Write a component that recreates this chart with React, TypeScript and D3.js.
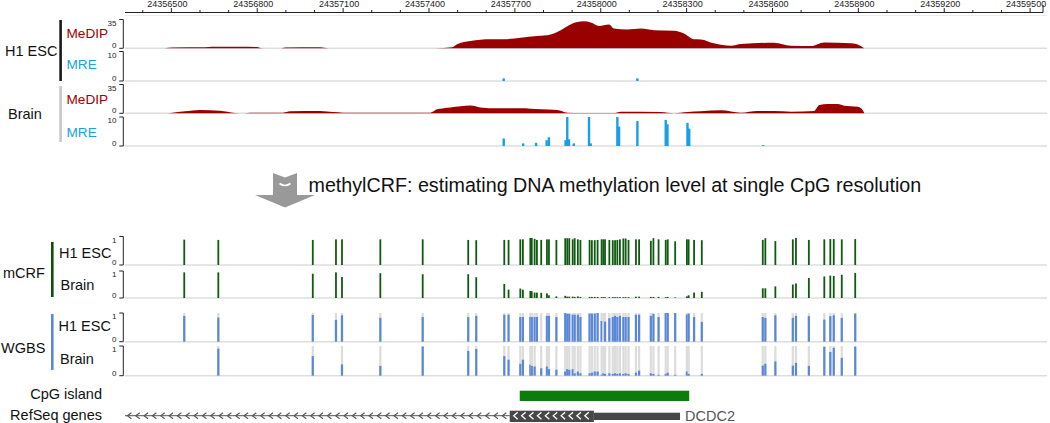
import React from "react";
import * as d3 from "d3";

const FONT = "'Liberation Sans', Arial, Helvetica, sans-serif";

// genomic window shown (bp)
const viewStart = 24356338;
const viewEnd = 24359545;
const majorTicks = d3.range(24356500, 24359501, 300);
const minorTicks = d3.range(24356400, 24359545, 100);

// MeDIP read coverage, H1 ESC
const medipH1Pos = [24356477, 24356502, 24356617, 24356642, 24356740, 24356799, 24356817, 24356880, 24356897, 24357020,
  24357048, 24357419, 24357481, 24357498, 24357545, 24357615, 24357660, 24357720, 24357778, 24357825,
  24357860, 24357889, 24357918, 24357941, 24357965, 24357994, 24358011, 24358029, 24358046, 24358093,
  24358140, 24358186, 24358256, 24358291, 24358326, 24358350, 24358395, 24358455, 24358490, 24358605,
  24358665, 24358735, 24358780, 24358875, 24358910, 24358920];
const medipH1Val = [0, 1, 1.2, 2, 2, 1.5, 0, 0, 1, 1.2,
  0, 0, 1.2, 4.8, 8.8, 11, 11, 12.8, 14.8, 16.8,
  22, 28, 32, 32.8, 31.3, 27.2, 28, 28.8, 24, 22.8,
  24, 22, 21.2, 18, 11, 10.8, 6, 3.2, 5.2, 6.8,
  3.2, 2.8, 7.2, 6, 2.4, 0];

// MeDIP read coverage, Brain
const medipBrainPos = [24356477, 24356498, 24356547, 24356600, 24356670, 24356722, 24356757, 24356775, 24356890, 24356915,
  24357020, 24357065, 24357100, 24357254, 24357310, 24357405, 24357428, 24357475, 24357545, 24357580,
  24357638, 24357720, 24357790, 24357848, 24357883, 24357930, 24358045, 24358070, 24358210, 24358256,
  24358303, 24358350, 24358420, 24358490, 24358548, 24358605, 24358665, 24358745, 24358764, 24358793,
  24358828, 24358851, 24358898, 24358910, 24358921];
const medipBrainVal = [0, 0.5, 2.4, 4, 3.2, 0.5, 0, 0.8, 0.8, 2.4,
  2.8, 1.5, 0.8, 0.6, 0.8, 0.8, 4.8, 7.2, 9.6, 7.2,
  6, 6, 4.8, 4, 0.8, 0.3, 0.3, 2, 1.6, 0,
  1.5, 2.5, 3.6, 0.8, 2.8, 2.8, 2, 2.8, 10, 11.2,
  11.2, 9.2, 8, 6, 0];

// MRE counts
const mreH1Pos = [24357661, 24358128];
const mreH1Val = [0.9, 0.9];
const mreBrainPos = [24357661, 24357729, 24357774, 24357811, 24357819, 24357877, 24357883, 24357889, 24357906, 24357959,
  24357965, 24358058, 24358064, 24358128, 24358227, 24358233, 24358303, 24358309, 24358567];
const mreBrainVal = [2.6, 0.9, 1.1, 2, 3, 2, 10, 2.3, 0.9, 10,
  0.9, 10, 6.7, 8.6, 9, 7.5, 8, 6, 0.3];

// CpG sites
const cpgPos = [24356545, 24356664, 24356994, 24357075, 24357096, 24357230, 24357378, 24357537, 24357565, 24357663,
  24357678, 24357719, 24357728, 24357754, 24357759, 24357769, 24357777, 24357792, 24357812, 24357819,
  24357845, 24357876, 24357883, 24357890, 24357902, 24357909, 24357920, 24357929, 24357961, 24357969,
  24357979, 24357989, 24358003, 24358009, 24358015, 24358030, 24358042, 24358050, 24358058, 24358067,
  24358079, 24358087, 24358097, 24358123, 24358134, 24358175, 24358184, 24358202, 24358227, 24358234,
  24358260, 24358301, 24358307, 24358326, 24358353, 24358566, 24358575, 24358610, 24358671, 24358682,
  24358727, 24358781, 24358802, 24358814, 24358842, 24358889];

// methylCRF estimates
const mcrfH1 = [0.89, 0.88, 0.88, 0.9, 0.9, 0.9, 0.9, 0.88, 0.87, 0.88,
  0.88, 0.9, 0.9, 0.95, 0.95, 0.92, 0.88, 0.88, 0.9, 0.9,
  0.88, 0.94, 0.94, 0.94, 0.9, 0.94, 0.9, 0.88, 0.88, 0.87,
  0.87, 0.88, 0.9, 0.9, 0.9, 0.88, 0.87, 0.87, 0.88, 0.9,
  0.93, 0.93, 0.88, 0.9, 0.9, 0.85, 0.94, 0.9, 0.88, 0.9,
  0.83, 0.9, 0.9, 0.88, 0.87, 0.88, 0.94, 0.84, 0.9, 0.95,
  0.88, 0.9, 0.91, 0.91, 0.9, 0.91];
const mcrfBrain = [0.95, 0.95, 0.9, 0.95, 0.78, 0.92, 0.88, 0.88, 0.77, 0.52,
  0.31, 0.35, 0.31, 0.26, 0.25, 0.2, 0.2, 0.19, 0.17, 0.1,
  0.06, 0.08, 0.05, 0.05, 0.05, 0.04, 0.06, 0.04, 0.04, 0.04,
  0.04, 0.04, 0.03, 0.03, 0.03, 0.03, 0.03, 0.03, 0.03, 0.03,
  0.03, 0.03, 0.03, 0.05, 0.05, 0.04, 0.04, 0.04, 0.03, 0.04,
  0.02, 0.06, 0.1, 0.2, 0.23, 0.36, 0.36, 0.43, 0.5, 0.54,
  0.74, 0.8, 0.83, 0.82, 0.86, 0.93];

// WGBS methylation (null = not covered)
const wgbsH1 = [0.9, 0.84, 0.93, 0.76, 0.92, 0.83, 0.86, 0.86, 0.9, 0.94,
  0.94, 0.86, 0.86, 0.86, 0.86, 0.86, 0.86, 0, 0.9, 0.9,
  0.86, 1, 0.97, 0.97, 0.94, 0.94, 0.94, 0.86, 0.98, 0.98,
  0.98, 1, 0.72, 0, 0.7, 0.82, 0.86, 0.9, 0.86, 0.9,
  0.86, 0.86, 0.86, 0.94, 0.94, 0.9, 0.97, 0.86, 1, 1,
  1, 0.94, 0.98, 0.86, 0.69, 0.86, 0.83, 0.92, 0.83, 0.9,
  0.89, 0.77, 0.89, 0.92, 0.83, 0.98];
const wgbsBrain = [null, 0.91, 0.66, null, 0.38, 0.33, 0.98, 0.83, 0.9, 0.66,
  0.54, 0.4, 0.54, 0.37, 0.33, 0.31, null, 0.25, 0.31, 0.22,
  0.2, 0.14, 0.22, 0.2, 0.22, 0.08, 0.14, 0.08, 0.08, 0.1,
  0.14, 0.14, 0.03, 0.08, 0.06, 0.08, 0.06, 0.08, 0.06, 0.08,
  0.06, 0.08, 0.06, 0.1, 0.17, 0.08, 0.06, 0.03, 0.06, 0.1,
  0.03, 0.14, 0.06, null, 0.06, 0.34, 0.4, 0.48, 0.34, 0.43,
  0.33, 0.97, 0.8, 0.94, 0.6, 0.98];

// annotation
const cpgIsland = [24357717, 24358309];
const geneName = "DCDC2";
const geneIntron = [viewStart, 24357682];
const geneCds = [24357682, 24357976];
const geneUtr = [24357976, 24358277];

const C = {
  medip: "#990000",
  mre: "#1a9fe5",
  mcrf: "#115a11",
  wgbs: "#5b87da",
  wgbsBg: "#dcdcdc",
  base: "#dedede",
  island: "#0c7c0c",
  gene: "#474747",
};

function Bracket({ top, bottom, hi, lo }: { top: number; bottom: number; hi: string; lo: string }) {
  const bx = 123.3;
  return (
    <g stroke="#222" fill="none" strokeWidth={1}>
      <path d={`M${bx - 4},${top}H${bx}V${bottom}H${bx - 4}`} />
      <text x={116.5} y={top + 6} textAnchor="end" fontSize={8} fill="#222" stroke="none">{hi}</text>
      <text x={116.5} y={bottom} textAnchor="end" fontSize={8} fill="#222" stroke="none">{lo}</text>
    </g>
  );
}

export default function App() {
  const x = d3.scaleLinear().domain([viewStart, viewEnd]).range([125, 1043]);
  const xr0 = 125, xr1 = 1047;

  const yMedipH1 = d3.scaleLinear().domain([0, 35]).range([48.3, 19.5]);
  const yMreH1 = d3.scaleLinear().domain([0, 10]).range([81, 51.5]).clamp(true);
  const yMedipBrain = d3.scaleLinear().domain([0, 35]).range([113.3, 84.5]);
  const yMreBrain = d3.scaleLinear().domain([0, 10]).range([146, 117]).clamp(true);
  const yMcrfH1 = d3.scaleLinear().domain([0, 1]).range([265, 236.5]);
  const yMcrfBrain = d3.scaleLinear().domain([0, 1]).range([298, 271]);
  const yWgbsH1 = d3.scaleLinear().domain([0, 1]).range([341.7, 313]);
  const yWgbsBrain = d3.scaleLinear().domain([0, 1]).range([375.7, 346]);

  const medipArea = (pos: number[], y: d3.ScaleLinear<number, number>) =>
    d3.area<number>()
      .x((_, i) => x(pos[i]))
      .y0(y(0))
      .y1((d) => y(d))
      .curve(d3.curveMonotoneX);

  const baselines = [48.3, 81, 113.3, 146, 265, 298, 341.7, 375.7];

  const mreBars = (pos: number[], val: number[], y: d3.ScaleLinear<number, number>) =>
    pos.map((p, i) => (
      <rect key={i} x={x(p) - 1.2} width={2.4} y={y(val[i])} height={y(0) - y(val[i])} fill={C.mre} />
    ));

  const mcrfBars = (val: number[], y: d3.ScaleLinear<number, number>) =>
    cpgPos.map((p, i) => (
      <rect key={i} x={x(p) - 0.9} width={1.8} y={y(val[i])} height={y(0) - y(val[i])} fill={C.mcrf} />
    ));

  const wgbsBars = (val: (number | null)[], y: d3.ScaleLinear<number, number>) =>
    cpgPos.map((p, i) => {
      const v = val[i];
      if (v === null) return null;
      return (
        <g key={i}>
          <rect x={x(p) - 1.1} width={2.2} y={y(1)} height={y(0) - y(1)} fill={C.wgbsBg} />
          <rect x={x(p) - 1.1} width={2.2} y={y(v)} height={y(0) - y(v)} fill={C.wgbs} />
        </g>
      );
    });

  // chevrons along the intron (strand -)
  const intronY = 415.7;
  const chevrons = d3.range(x(geneIntron[0]) + 4, x(geneIntron[1]) - 2, 8.33);
  const cdsChev = d3.range(x(geneCds[0]) + 6, x(geneCds[1]) - 6, 7.9);

  return (
    <svg width={1050} height={423} style={{ position: "absolute", left: 0, top: 0 }} fontFamily={FONT}>
      <rect width={1050} height={423} fill="#fff" />

      {/* top coordinate axis */}
      <g stroke="#222" strokeWidth={1}>
        <line x1={xr0} x2={1043} y1={12.5} y2={12.5} />
        <line x1={1043} x2={1043} y1={5} y2={12.5} />
        {minorTicks.filter((t) => !majorTicks.includes(t)).map((t) => (
          <line key={t} x1={x(t)} x2={x(t)} y1={10} y2={12.5} />
        ))}
        {majorTicks.map((t) => (
          <line key={t} x1={x(t)} x2={x(t)} y1={8} y2={12.5} />
        ))}
      </g>
      {majorTicks.map((t) => (
        <text key={t} x={x(t) - 4} y={7} textAnchor="middle" fontSize={9} fill="#222">{t}</text>
      ))}
      <line x1={xr0} x2={xr1} y1={15.5} y2={15.5} stroke="#ebebeb" />

      {/* track baselines */}
      {baselines.map((b) => (
        <line key={b} x1={xr0} x2={xr1} y1={b} y2={b} stroke={C.base} strokeWidth={1.5} />
      ))}

      {/* MeDIP / MRE */}
      <path d={medipArea(medipH1Pos, yMedipH1)(medipH1Val) || ""} fill={C.medip} />
      <path d={medipArea(medipBrainPos, yMedipBrain)(medipBrainVal) || ""} fill={C.medip} />
      {mreBars(mreH1Pos, mreH1Val, yMreH1)}
      {mreBars(mreBrainPos, mreBrainVal, yMreBrain)}

      <Bracket top={19.5} bottom={48.3} hi="35" lo="0" />
      <Bracket top={51.5} bottom={81} hi="10" lo="0" />
      <Bracket top={84.5} bottom={113.3} hi="35" lo="0" />
      <Bracket top={117} bottom={146} hi="10" lo="0" />

      <text x={5} y={56} fontSize={14.5} fill="#111">H1 ESC</text>
      <rect x={59.3} y={20} width={2.6} height={61} fill="#1a1a1a" />
      <text x={66.5} y={38} fontSize={13.6} fill="#a00000">MeDIP</text>
      <text x={66.5} y={69} fontSize={13.6} fill={C.mre}>MRE</text>

      <text x={8} y={119} fontSize={14.5} fill="#111">Brain</text>
      <rect x={59.3} y={86} width={2.6} height={56} fill="#c8c8c8" />
      <text x={66.5} y={104} fontSize={13.6} fill="#a00000">MeDIP</text>
      <text x={66.5} y={137} fontSize={13.6} fill={C.mre}>MRE</text>

      {/* arrow + caption */}
      <polygon points="273,173 285,177.5 297,173 297,195 315,195 285,207.5 255,195 273,195" fill="#999" />
      <path d="M279.5,183.5 Q285,187.5 290.5,183.5" stroke="#fff" strokeWidth={1.6} fill="none" />
      <text x={308.5} y={192} fontSize={19.7} fill="#111">
        methylCRF: estimating DNA methylation level at single CpG resolution
      </text>

      {/* mCRF */}
      {mcrfBars(mcrfH1, yMcrfH1)}
      {mcrfBars(mcrfBrain, yMcrfBrain)}
      <Bracket top={236.5} bottom={265} hi="1" lo="0" />
      <Bracket top={271} bottom={298} hi="1" lo="0" />
      <text x={3} y={278} fontSize={14.5} fill="#111">mCRF</text>
      <rect x={51} y={242} width={2.6} height={55} fill="#0e4f0e" />
      <text x={59} y={257.5} fontSize={14.5} fill="#111">H1 ESC</text>
      <text x={60.5} y={290} fontSize={14.5} fill="#111">Brain</text>

      {/* WGBS */}
      {wgbsBars(wgbsH1, yWgbsH1)}
      {wgbsBars(wgbsBrain, yWgbsBrain)}
      <Bracket top={313} bottom={341.7} hi="1" lo="0" />
      <Bracket top={346} bottom={375.7} hi="1" lo="0" />
      <text x={1} y={353} fontSize={14.5} fill="#111">WGBS</text>
      <rect x={51} y={314} width={2.6} height={56} fill={C.wgbs} />
      <text x={58.5} y={331} fontSize={14.5} fill="#111">H1 ESC</text>
      <text x={60} y={363.5} fontSize={14.5} fill="#111">Brain</text>

      {/* CpG island */}
      <text x={102} y={398.5} textAnchor="end" fontSize={14.5} fill="#111">CpG island</text>
      <rect x={x(cpgIsland[0])} width={x(cpgIsland[1]) - x(cpgIsland[0])} y={390.7} height={10.3} fill={C.island} />

      {/* RefSeq gene */}
      <text x={102} y={420} textAnchor="end" fontSize={14.5} fill="#111">RefSeq genes</text>
      <line x1={x(geneIntron[0])} x2={x(geneIntron[1])} y1={intronY} y2={intronY} stroke="#555" strokeWidth={1} />
      {chevrons.map((cx, i) => (
        <path key={i} d={`M${cx + 2.4},${intronY - 3}L${cx - 1.6},${intronY}L${cx + 2.4},${intronY + 3}`}
          stroke="#555" strokeWidth={1.1} fill="none" />
      ))}
      <rect x={x(geneCds[0])} width={x(geneCds[1]) - x(geneCds[0])} y={410.7} height={11.3} fill={C.gene} />
      <rect x={x(geneUtr[0])} width={x(geneUtr[1]) - x(geneUtr[0])} y={412.7} height={7.3} fill={C.gene} />
      {cdsChev.map((cx, i) => (
        <path key={i} d={`M${cx + 2},${intronY - 3.5}L${cx - 2},${intronY}L${cx + 2},${intronY + 3.5}`}
          stroke="#fff" strokeWidth={1.3} fill="none" />
      ))}
      <text x={x(geneUtr[1]) + 5} y={421} fontSize={14.5} fill="#555">{geneName}</text>
    </svg>
  );
}
